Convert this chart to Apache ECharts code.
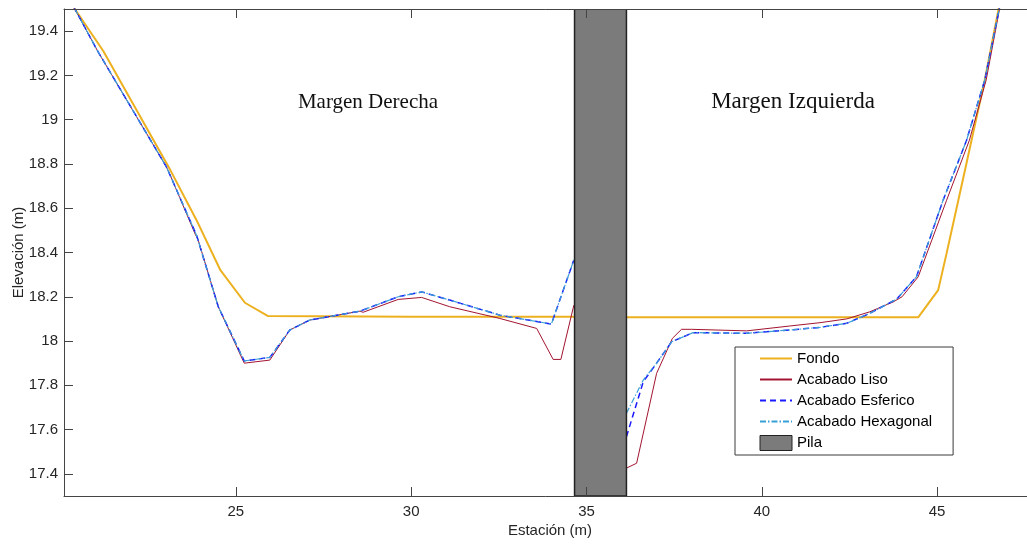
<!DOCTYPE html>
<html>
<head>
<meta charset="utf-8">
<script src="https://cdn.jsdelivr.net/npm/echarts@6/dist/echarts.min.js"></script>
<style>
html,body{margin:0;padding:0;background:#fff;}
#chart{width:1027px;height:544px;}
</style>
</head>
<body>
<div id="chart"></div>
<script>
// ---- data ----
const xTicks = [25, 30, 35, 40, 45];
const yTicks = [17.4, 17.6, 17.8, 18, 18.2, 18.4, 18.6, 18.8, 19, 19.2, 19.4];
const xMin = 20.1, xMax = 47.82, yMin = 17.3, yMax = 19.5;

const fondoX = [20.1, 20.41, 21.22, 23.14, 23.88, 24.56, 25.26, 25.92, 30, 34.66, 36.14, 40, 44.46, 45.03, 45.27, 45.75, 46.36, 46.85];
const fondoY = [19.58, 19.5, 19.31, 18.77, 18.546, 18.32, 18.173, 18.113, 18.11, 18.11, 18.108, 18.107, 18.107, 18.23, 18.396, 18.74, 19.18, 19.58];

const lisoX = [20.1, 20.41, 21.07, 23.02, 23.1, 23.85, 23.92, 24.5, 25.24, 25.97, 26.54, 27.11, 28.54, 28.63, 29.63, 30.3, 31.1, 32.53, 33.58, 34.05, 34.27, 34.64,
  null,
  36.14, 36.43, 37.0, 37.45, 37.71, 38.0, 39.57, 40.8, 41.66, 42.42, 43.08, 43.75, 44.0, 44.46, 45.27, 45.92, 46.4, 46.78, 46.88];
const lisoY = [19.59, 19.5, 19.307, 18.787, 18.76, 18.48, 18.46, 18.155, 17.90, 17.914, 18.05, 18.095, 18.135, 18.13, 18.188, 18.197, 18.155, 18.102, 18.057, 17.917, 17.917, 18.162,
  null,
  17.426, 17.448, 17.854, 18.012, 18.053, 18.053, 18.046, 18.068, 18.083, 18.1, 18.132, 18.177, 18.2, 18.29, 18.636, 18.907, 19.18, 19.5, 19.58];

const esfX = [20.1, 20.41, 21.07, 23.02, 23.88, 24.5, 25.24, 25.97, 26.54, 27.11, 28.54, 29.63, 30.3, 31.1, 32.53, 34.0, 34.64,
  null,
  36.14, 36.62, 37.0, 37.43, 38.04, 39.57, 40.8, 41.66, 42.42, 43.08, 43.85, 44.41, 44.46, 45.17, 45.84, 46.36, 46.77, 46.87];
const esfY = [19.59, 19.5, 19.307, 18.787, 18.478, 18.155, 17.91, 17.926, 18.05, 18.095, 18.135, 18.2, 18.222, 18.185, 18.117, 18.077, 18.366,
  null,
  17.568, 17.816, 17.9, 17.997, 18.038, 18.035, 18.05, 18.062, 18.08, 18.125, 18.19, 18.29, 18.298, 18.636, 18.907, 19.18, 19.5, 19.58];

const hexX = [20.1, 20.41, 21.07, 23.02, 23.88, 24.5, 25.24, 25.97, 26.54, 27.11, 28.54, 29.63, 30.3, 31.1, 32.53, 34.0, 34.64,
  null,
  36.14, 36.62, 37.0, 37.43, 38.04, 39.57, 40.8, 41.66, 42.42, 43.08, 43.85, 44.41, 44.46, 45.17, 45.84, 46.36, 46.77, 46.87];
const hexY = [19.59, 19.5, 19.307, 18.787, 18.478, 18.155, 17.91, 17.926, 18.05, 18.095, 18.135, 18.2, 18.222, 18.185, 18.117, 18.077, 18.366,
  null,
  17.674, 17.824, 17.9, 17.997, 18.038, 18.035, 18.05, 18.062, 18.08, 18.125, 18.19, 18.29, 18.298, 18.636, 18.907, 19.18, 19.5, 19.58];

const pilaX = [[34.66, 36.14]];

const names = ['Fondo', 'Acabado Liso', 'Acabado Esferico', 'Acabado Hexagonal', 'Pila'];
const notes = ['Margen Derecha', 'Margen Izquierda'];

// ---- build ----
function zip(xs, ys) {
  return xs.map((x, i) => (x === null ? ['-', '-'] : [x, ys[i]]));
}
const FONT = 'Liberation Sans, Arial, sans-serif';
const axisColor = '#444';
const labelColor = '#262626';

const chart = echarts.init(document.getElementById('chart'), null, {renderer: 'canvas'});
const commonTick = {inside: true, length: 9, lineStyle: {color: axisColor, width: 1}};

const legendData = names.map((n, i) => i < 4
  ? {name: n, itemStyle: {opacity: 0}}
  : {name: n, icon: 'rect', itemStyle: {color: '#7b7b7b', borderColor: '#222', borderWidth: 1}});

const option = {
  backgroundColor: '#fff',
  animation: false,
  grid: {left: 64, right: -9, top: 9, bottom: 48, containLabel: false, outerBoundsMode: 'none'},
  xAxis: [{
    type: 'value', min: xMin, max: xMax, position: 'bottom', z: 5,
    name: 'Estación (m)', nameLocation: 'middle', nameGap: 27, nameMoveOverlap: false,
    nameTextStyle: {fontFamily: FONT, fontSize: 15, color: labelColor},
    axisLine: {show: true, onZero: false, lineStyle: {color: axisColor, width: 1}},
    axisTick: Object.assign({customValues: xTicks}, commonTick),
    axisLabel: {customValues: xTicks, fontFamily: FONT, fontSize: 15, color: labelColor, margin: 8},
    splitLine: {show: false}
  }, {
    type: 'value', min: xMin, max: xMax, position: 'top', z: 5,
    axisLine: {show: true, onZero: false, lineStyle: {color: axisColor, width: 1}},
    axisTick: Object.assign({customValues: xTicks}, commonTick),
    axisLabel: {show: false},
    splitLine: {show: false}
  }],
  yAxis: [{
    type: 'value', min: yMin, max: yMax, position: 'left', z: 5,
    name: 'Elevación (m)', nameLocation: 'middle', nameGap: 38, nameRotate: 90, nameMoveOverlap: false,
    nameTextStyle: {fontFamily: FONT, fontSize: 15, color: labelColor},
    axisLine: {show: true, onZero: false, lineStyle: {color: axisColor, width: 1}},
    axisTick: Object.assign({customValues: yTicks}, commonTick),
    axisLabel: {customValues: yTicks, fontFamily: FONT, fontSize: 15, color: labelColor, margin: 6,
      formatter: v => String(Math.round(v * 10) / 10)},
    splitLine: {show: false}
  }],
  legend: {
    orient: 'vertical', left: 735, top: 347, align: 'left',
    data: legendData,
    itemWidth: 32, itemHeight: 15, itemGap: 6,
    padding: [4, 21, 4, 24],
    backgroundColor: '#fff', borderColor: '#3a3a3a', borderWidth: 1,
    textStyle: {fontFamily: FONT, fontSize: 15, color: '#000'},
    selectedMode: false
  },
  graphic: [
    {type: 'text', x: 368, y: 102, style: {text: notes[0], font: '21px "Liberation Serif", "Times New Roman", serif', fill: '#111', align: 'center', verticalAlign: 'middle'}},
    {type: 'text', x: 793, y: 102, style: {text: notes[1], font: '23px "Liberation Serif", "Times New Roman", serif', fill: '#111', align: 'center', verticalAlign: 'middle'}}
  ],
  series: [
    {name: names[0], type: 'line', data: zip(fondoX, fondoY), symbol: 'none', z: 2, clip: true,
      lineStyle: {color: '#EDB120', width: 2}, itemStyle: {color: '#EDB120'}},
    {name: names[1], type: 'line', data: zip(lisoX, lisoY), symbol: 'none', z: 2, clip: true, connectNulls: false,
      lineStyle: {color: '#A2142F', width: 1}, itemStyle: {color: '#A2142F'}},
    {name: names[2], type: 'line', data: zip(esfX, esfY), symbol: 'none', z: 2, clip: true, connectNulls: false,
      lineStyle: {color: '#1a1aff', width: 1.5, type: [6, 4]}, itemStyle: {color: '#1a1aff'}},
    {name: names[3], type: 'line', data: zip(hexX, hexY), symbol: 'none', z: 2, clip: true, connectNulls: false,
      lineStyle: {color: '#3a9fd6', width: 1.2, type: [6, 2, 1.5, 2]}, itemStyle: {color: '#3a9fd6'}},
    {name: names[4], type: 'custom', z: 3, clip: true,
      data: pilaX, encode: {x: [0, 1]},
      itemStyle: {color: '#7b7b7b', borderColor: '#222', borderWidth: 1},
      renderItem: function (params, api) {
        const p0 = api.coord([api.value(0), yMax]);
        const p1 = api.coord([api.value(1), yMin]);
        return {type: 'rect', shape: {x: p0[0], y: p0[1], width: p1[0] - p0[0], height: p1[1] - p0[1]},
          style: {fill: '#7b7b7b', stroke: '#222', lineWidth: 1.5}};
      }}
  ]
};
chart.setOption(option);
</script>
</body>
</html>
